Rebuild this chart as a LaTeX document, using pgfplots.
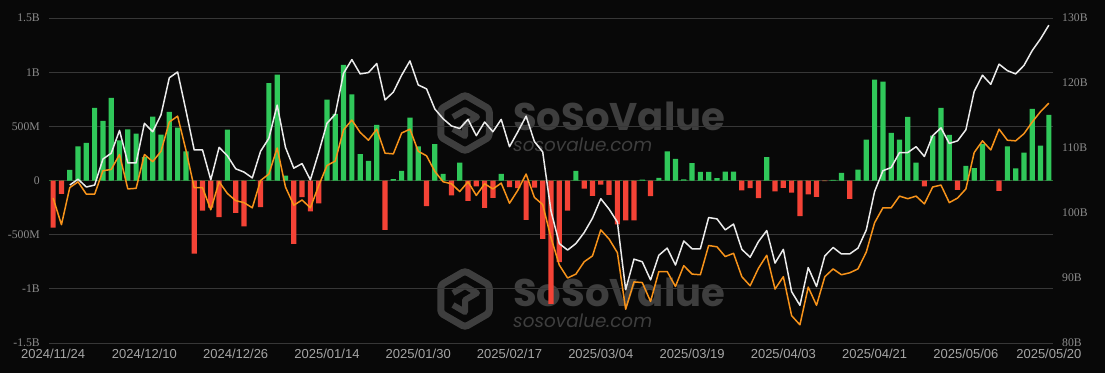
\documentclass[border=0pt]{standalone}
\usepackage{pgfplots}
\pgfplotsset{compat=1.18}
\usepackage{pgfplotstable}
\usepackage{graphicx}
\usepackage{fontspec}
\setmainfont{Liberation Serif}
\newfontfamily\xfont{Liberation Sans}
\newfontfamily\wmfont{Poppins}
\definecolor{bg}{RGB}{8,8,8}
\definecolor{gridc}{RGB}{55,55,55}
\definecolor{upc}{RGB}{48,200,90}
\definecolor{dnc}{RGB}{244,67,54}
\definecolor{orc}{RGB}{247,147,26}
\definecolor{whc}{RGB}{235,235,235}
\definecolor{tickc}{RGB}{140,140,140}
\definecolor{xtc}{RGB}{165,165,165}
\definecolor{wmc}{RGB}{62,62,62}
\definecolor{zeroc}{RGB}{40,110,50}

\pgfplotstableread{
i v o w
0 -0.436 102.3 nan
1 -0.123 98.2 nan
2 0.098 103.9 104.3
3 0.314 104.8 105.2
4 0.347 102.9 104.0
5 0.670 102.9 104.3
6 0.550 106.5 108.3
7 0.763 106.7 109.2
8 0.370 109.0 112.7
9 0.473 103.7 107.7
10 0.433 103.8 107.7
11 0.215 109.0 113.8
12 0.590 107.9 112.5
13 0.424 109.5 115.1
14 0.633 114.0 120.8
15 0.489 114.9 121.7
16 0.270 109.7 115.8
17 -0.676 103.9 109.7
18 -0.277 103.9 109.7
19 -0.250 100.5 105.1
20 -0.338 104.8 110.1
21 0.470 103.0 108.8
22 -0.298 101.9 106.8
23 -0.424 101.6 106.3
24 0.005 100.8 105.4
25 -0.246 105.0 109.5
26 0.900 106.0 111.5
27 0.978 110.0 116.6
28 0.046 104.0 110.1
29 -0.584 101.2 106.9
30 -0.154 102.0 107.6
31 -0.286 100.8 105.1
32 -0.212 104.2 109.3
33 0.747 107.3 113.8
34 0.615 108.0 115.2
35 1.067 112.8 121.5
36 0.796 114.3 123.6
37 0.243 112.4 121.4
38 0.181 111.2 121.6
39 0.514 112.9 123.0
40 -0.455 109.2 117.4
41 0.012 109.1 118.6
42 0.089 112.3 121.2
43 0.581 112.9 123.4
44 0.314 109.5 119.7
45 -0.237 108.8 119.1
46 0.335 106.4 116.0
47 0.061 104.8 114.5
48 -0.138 104.5 113.4
49 0.166 103.3 113.0
50 -0.187 104.8 114.4
51 -0.055 102.7 111.9
52 -0.252 104.5 114.0
53 -0.160 103.7 112.5
54 0.061 104.6 114.4
55 -0.062 101.5 110.2
56 -0.071 103.5 112.5
57 -0.363 106.0 114.9
58 -0.065 102.4 111.0
59 -0.538 101.3 109.4
60 -1.138 96.2 100.3
61 -0.753 92.0 95.3
62 -0.277 90.0 94.3
63 0.089 90.6 95.3
64 -0.074 92.5 97.0
65 -0.141 93.4 99.2
66 -0.037 97.4 102.2
67 -0.132 96.0 100.6
68 -0.406 93.9 98.6
69 -0.369 85.2 88.2
70 -0.369 89.4 92.9
71 0.009 89.3 92.5
72 -0.145 86.4 89.7
73 0.025 91.0 93.5
74 0.268 91.0 94.6
75 0.200 88.7 92.0
76 0.010 91.9 95.7
77 0.160 90.6 94.5
78 0.080 90.5 94.5
79 0.080 95.0 99.3
80 0.022 94.8 99.1
81 0.083 93.3 97.4
82 0.083 93.8 98.3
83 -0.092 90.2 94.4
84 -0.071 88.8 93.2
85 -0.163 91.5 95.6
86 0.215 93.5 97.3
87 -0.101 88.3 92.3
88 -0.068 90.2 94.4
89 -0.111 84.2 87.9
90 -0.329 82.8 85.8
91 -0.129 88.6 91.6
92 -0.151 85.8 88.7
93 -0.005 90.2 93.4
94 0.005 91.4 94.7
95 0.071 90.5 93.7
96 -0.169 90.8 93.7
97 0.101 91.4 94.6
98 0.378 94.0 97.4
99 0.932 98.5 103.3
100 0.913 100.8 106.5
101 0.440 100.8 107.0
102 0.378 102.6 109.3
103 0.587 102.2 109.3
104 0.166 102.6 110.2
105 -0.055 101.4 108.7
106 0.415 104.0 111.9
107 0.671 104.3 113.1
108 0.421 101.6 110.7
109 -0.086 102.3 111.1
110 0.135 103.7 112.8
111 0.114 109.3 118.7
112 0.338 111.1 121.2
113 0.003 109.7 119.8
114 -0.095 112.9 122.9
115 0.314 111.2 121.9
116 0.111 111.1 121.4
117 0.258 112.2 122.7
118 0.661 114.0 125.0
119 0.323 115.6 126.8
120 0.606 116.9 128.9
}\datatable

\begin{document}
\begin{tikzpicture}
\path[use as bounding box] (-49pt,-30pt) rectangle (1056pt,343pt);
\fill[bg] (-49pt,-30pt) rectangle (1056pt,343pt);
% watermarks
\foreach \dy in {0,176}{
  \begin{scope}[yshift=-\dy pt]
    \draw[wmc, line width=7pt, line join=round, rounded corners=3pt] (416pt,220pt) ++(90:28pt) -- ++(-30:28pt) -- ++(-90:28pt) -- ++(-150:28pt) -- ++(150:28pt) -- ++(90:28pt) -- cycle;
    \draw[wmc, line width=6pt, line join=round] (404pt,226pt) -- (416pt,233pt) -- (428pt,226pt) -- (416pt,219pt) -- (416pt,207pt) -- (404pt,214pt);
    \node[wmc, anchor=base west, inner sep=0pt] at (464pt,213pt) {\resizebox{212pt}{!}{\wmfont\bfseries SoSoValue}};
    \node[wmc, anchor=base west, inner sep=0pt] at (464pt,192pt) {\resizebox{139pt}{!}{\wmfont\itshape sosovalue.com}};
  \end{scope}
}
\begin{axis}[
  at={(0pt,0pt)}, anchor=south west,
  scale only axis, width=1004pt, height=325pt,
  xmin=-0.5, xmax=120.5, ymin=-1.5, ymax=1.5,
  axis line style={draw=none},
  major tick length=0pt,
  ytick={-1.5,-1,-0.5,0,0.5,1,1.5},
  yticklabels={-1.5B,-1B,-500M,0,500M,1B,1.5B},
  ymajorgrids, grid style={color=gridc, line width=0.8pt},
  extra y ticks={0}, extra y tick labels={},
  extra y tick style={grid style={color=zeroc, dashed, line width=0.6pt}},
  xtick={0,11,22,33,44,55,66,77,88,99,110,120},
  xticklabels={2024/11/24,2024/12/10,2024/12/26,2025/01/14,2025/01/30,2025/02/17,2025/03/04,2025/03/19,2025/04/03,2025/04/21,2025/05/06,2025/05/20},
  xticklabel style={font=\xfont\fontsize{13}{13}\selectfont, text=xtc, inner sep=0pt, yshift=-6pt},
  yticklabel style={font=\fontsize{11.7}{12}\selectfont, text=tickc, inner sep=0pt, xshift=-9pt},
]
\addplot[ybar, bar shift=0pt, bar width=5.2pt, fill=upc, draw=none, restrict y to domain=0:2] table[x=i, y=v] {\datatable};
\addplot[ybar, bar shift=0pt, bar width=5.2pt, fill=dnc, draw=none, restrict y to domain=-2:0] table[x=i, y=v] {\datatable};
\end{axis}
\begin{axis}[
  at={(0pt,0pt)}, anchor=south west,
  scale only axis, width=1004pt, height=325pt,
  xmin=-0.5, xmax=120.5, ymin=80, ymax=130,
  axis x line=none, axis y line*=right,
  axis line style={draw=none},
  major tick length=0pt,
  ytick={80,90,100,110,120,130},
  yticklabels={80B,90B,100B,110B,120B,130B},
  yticklabel style={font=\fontsize{11.7}{12}\selectfont, text=tickc, inner sep=0pt, xshift=9pt},
]
\addplot[whc, line width=1.5pt, line join=round, mark=none] table[x=i, y=w] {\datatable};
\addplot[orc, line width=1.5pt, line join=round, mark=none] table[x=i, y=o] {\datatable};
\end{axis}
\end{tikzpicture}
\end{document}
